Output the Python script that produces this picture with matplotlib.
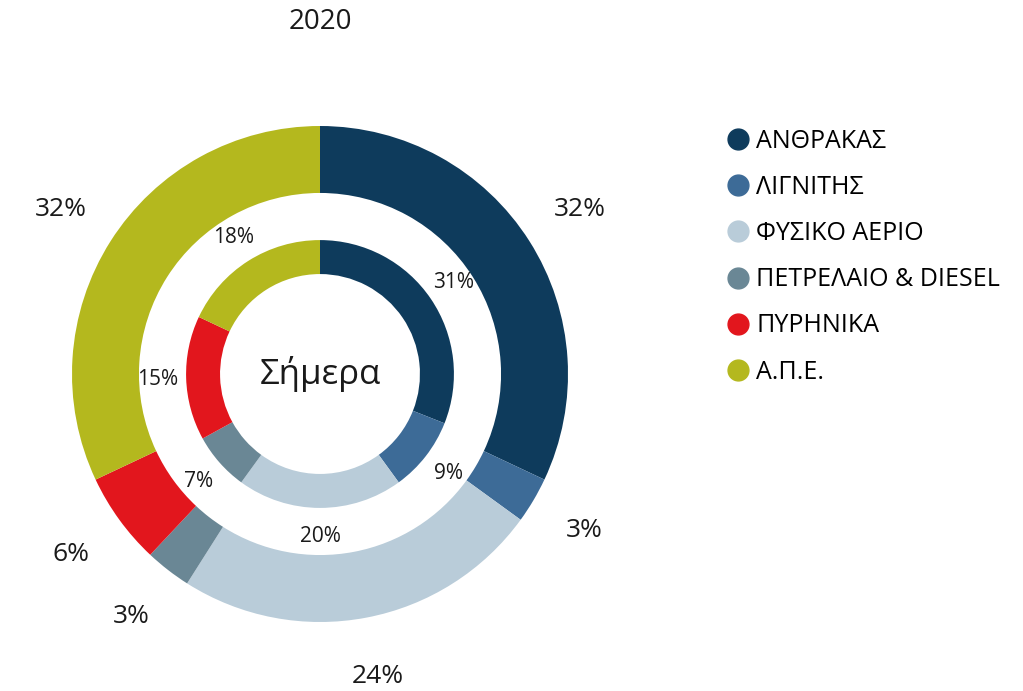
import matplotlib.pyplot as plt
from matplotlib.lines import Line2D

plt.rcParams['font.family'] = ['Open Sans', 'DejaVu Sans']

# data
categories = ['ΑΝΘΡΑΚΑΣ', 'ΛΙΓΝΙΤΗΣ', 'ΦΥΣΙΚΟ ΑΕΡΙΟ', 'ΠΕΤΡΕΛΑΙΟ & DIESEL', 'ΠΥΡΗΝΙΚΑ', 'Α.Π.Ε.']
outer_2020 = [32, 3, 24, 3, 6, 32]
inner_today = [31, 9, 20, 7, 15, 18]
colors = ['#0e3b5c', '#3d6b97', '#b9ccd9', '#6a8795', '#e2161d', '#b4b81e']

title = '2020'
center_text = 'Σήμερα'

fig = plt.figure(figsize=(10.23, 6.91), dpi=100)
W, H = 1023, 691
# pie axes centred at (320, 374) px, outer radius 248 px
cx, cy, R = 320, 374, 248
ax = fig.add_axes([(cx - R) / W, (H - cy - R) / H, 2 * R / W, 2 * R / H])

ax.pie(outer_2020, colors=colors, radius=1.0, startangle=90, counterclock=False,
       wedgeprops=dict(width=0.27, linewidth=0),
       autopct='%d%%', pctdistance=1.24,
       textprops=dict(fontsize=19, color='#1a1a1a'))

ax.pie(inner_today, colors=colors, radius=0.54, startangle=90, counterclock=False,
       wedgeprops=dict(width=0.137, linewidth=0),
       autopct='%d%%', pctdistance=1.21,
       textprops=dict(fontsize=15, color='#1a1a1a'))

ax.text(0, 0, center_text, ha='center', va='center', fontsize=25, color='#1a1a1a')

ax.set_xlim(-1, 1)
ax.set_ylim(-1, 1)
ax.set_aspect('equal')
ax.axis('off')

fig.text(cx / W, 1 - 22 / H, title, ha='center', va='center', fontsize=20, color='#1a1a1a')

handles = [Line2D([], [], marker='o', linestyle='none', markersize=15,
                  markerfacecolor=c, markeredgecolor=c) for c in colors]
fig.legend(handles, categories, loc='upper left', bbox_to_anchor=(700 / W, 1 - 106 / H),
           frameon=False, fontsize=18, handletextpad=0.15, labelspacing=0.85,
           handlelength=1.2)

plt.savefig('out.png', dpi=100)
